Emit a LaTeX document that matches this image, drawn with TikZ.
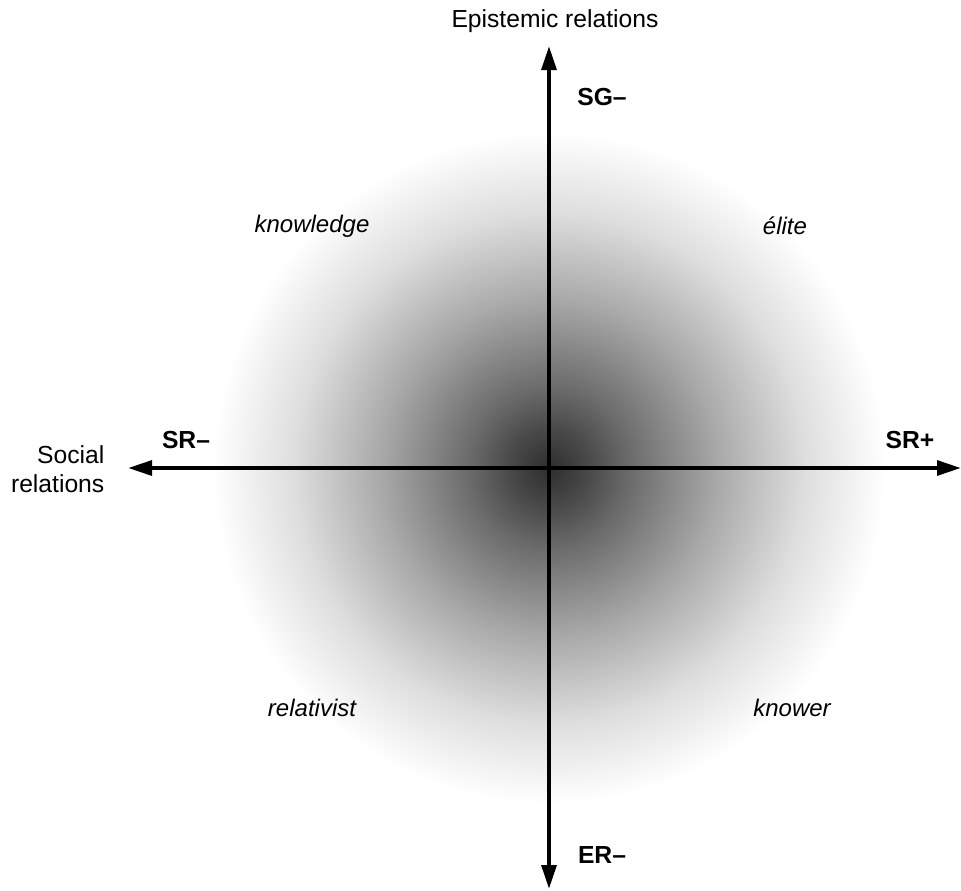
\documentclass[tikz,border=0pt]{standalone}
\usepackage{fontspec}
\setmainfont{Liberation Sans}
\usetikzlibrary{arrows.meta}

\pgfdeclareradialshading{glow}{\pgfpoint{0bp}{0bp}}{%
  color(0bp)=(black!82);
  color(3bp)=(black!71);
  color(6bp)=(black!58);
  color(12.5bp)=(black!34);
  color(19bp)=(black!13);
  color(25bp)=(white);
  color(50bp)=(white)}

\begin{document}
\begin{tikzpicture}[x=0.75pt, y=-0.75pt,
  every node/.style={font=\fontsize{18.5}{22}\selectfont},
  axis/.style={line width=3pt, {Triangle[length=18pt,width=11pt]}-{Triangle[length=18pt,width=11pt]}},
  pole/.style={font=\fontsize{18.5}{22}\selectfont\bfseries},
  quad/.style={font=\fontsize{18}{22}\selectfont\itshape}]
  \useasboundingbox (0,0) rectangle (961,890);

  % shaded disc
  \shade[shading=glow] (549,468) circle (336);

  % axes
  \coordinate (O) at (549,468);
  \coordinate (N) at (549,46);
  \coordinate (S) at (549,889);
  \coordinate (W) at (128,468);
  \coordinate (E) at (961,468);
  \draw[axis] (S) -- (N);
  \draw[axis] (W) -- (E);

  % axis names
  \node (er) at (555,21) {Epistemic relations};
  \node[align=right, anchor=east] (sr) at (109,469) {Social\\relations};

  % poles
  \node[pole] (sgm) at (602,97) {SG–};
  \node[pole] (erm) at (602,855) {ER–};
  \node[pole] (srm) at (186,440) {SR–};
  \node[pole] (srp) at (910,440) {SR+};

  % quadrants
  \node[quad] (kn) at (312,226) {knowledge};
  \node[quad] (el) at (785,226) {élite};
  \node[quad] (re) at (312,708) {relativist};
  \node[quad] (kw) at (792,708) {knower};
\end{tikzpicture}
\end{document}
